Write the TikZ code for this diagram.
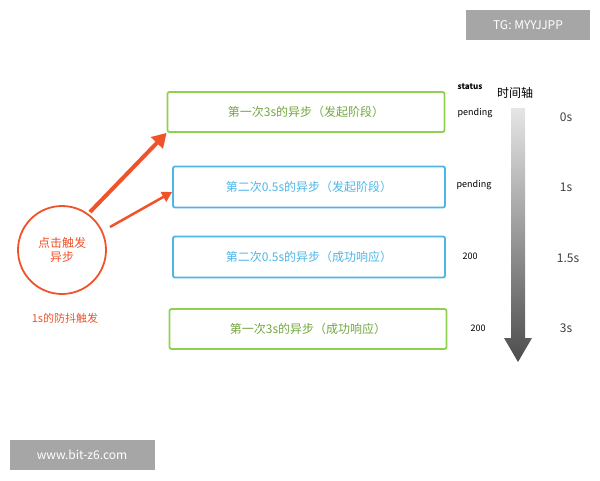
\documentclass[tikz,border=0pt]{standalone}
\usepackage{fontspec}
\setmainfont{Noto Sans CJK SC}
\usetikzlibrary{arrows.meta}
\definecolor{grn}{HTML}{8FD14F}
\definecolor{blu}{HTML}{4DB6E6}
\definecolor{org}{HTML}{F0522A}
\definecolor{gbox}{HTML}{A6A6A6}
\tikzset{
 gbx/.style={draw=grn,line width=1.8pt,rounded corners=2pt,minimum width=277pt,minimum height=40pt,font=\fontsize{12}{14}\selectfont,text=grn!80!black},
 bbx/.style={draw=blu,line width=1.8pt,rounded corners=2pt,minimum width=272pt,minimum height=41pt,font=\fontsize{12}{14}\selectfont,text=blu},
 lbl/.style={font=\fontsize{9}{11}\selectfont},
 tm/.style={font=\fontsize{12}{14}\selectfont,text=black!75},
 oarr/.style={draw=org,line width=4pt,-{Triangle[length=14pt,width=16pt]}}
}
\begin{document}
\begin{tikzpicture}[x=1pt,y=-1pt]
\useasboundingbox (0,0) rectangle (600,480);
\node[fill=gbox,minimum width=124pt,minimum height=30pt,text=white,font=\fontsize{12}{14}\selectfont] (tg) at (528,25) {TG: MYYJJPP};
\node[fill=gbox,minimum width=145pt,minimum height=30pt,text=white,font=\fontsize{12}{14}\selectfont] (www) at (82,455) {www.bit-z6.com};
\node[circle,draw=org,line width=1.8pt,minimum size=88pt,text=org,align=center,font=\fontsize{12}{14}\selectfont] (c) at (62,250) {点击触发\\异步};
\node[text=org,font=\fontsize{11}{13}\selectfont] (deb) at (65,318) {1s的防抖触发};
\node[gbx] (b1) at (306,112) {第一次3s的异步（发起阶段）};
\node[bbx] (b2) at (309,187) {第二次0.5s的异步（发起阶段）};
\node[bbx] (b3) at (309,257) {第二次0.5s的异步（成功响应）};
\node[gbx] (b4) at (308,329) {第一次3s的异步（成功响应）};
\coordinate (a1s) at (90,212);
\coordinate (a2s) at (110,227);
\draw[oarr] (a1s) -- (b1.south west);
\draw[oarr,line width=2.5pt,-{Triangle[length=10pt,width=11pt]}] (a2s) -- ([yshift=-5pt]b2.west);
\node[font=\bfseries\fontsize{8}{10}\selectfont] (st) at (470,87) {status};
\node[font=\fontsize{12}{14}\selectfont] (ax) at (515,93) {时间轴};
\node[lbl] (p1) at (475,113) {pending};
\node[lbl] (p2) at (474,185) {pending};
\node[lbl] (s3) at (470,256) {200};
\node[lbl] (s4) at (478,328) {200};
\node[tm] (t1) at (566,117) {0s};
\node[tm] (t2) at (566,187) {1s};
\node[tm] (t3) at (568,258) {1.5s};
\node[tm] (t4) at (566,328) {3s};
\coordinate (ta) at (518,108);
\coordinate (tb) at (518,362);
\shade[top color=gray!20,bottom color=black!70] (511,108) -- (525,108) -- (525,338) -- (532,338) -- (tb) -- (504,338) -- (511,338) -- cycle;
\end{tikzpicture}
\end{document}
